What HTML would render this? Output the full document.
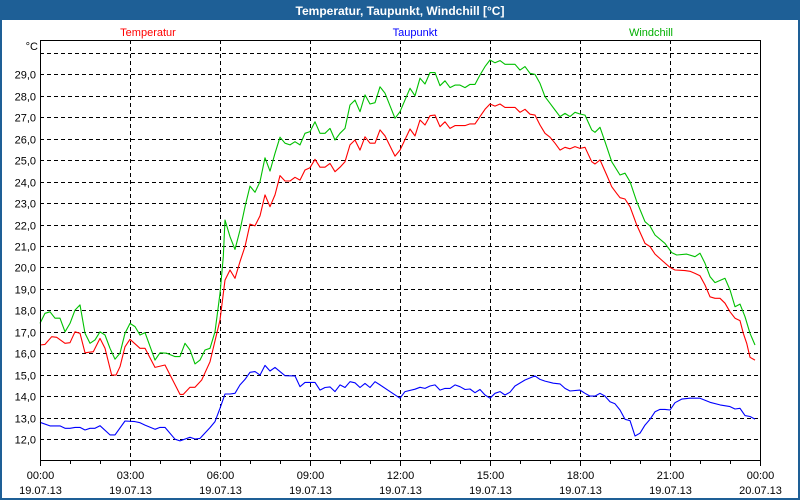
<!DOCTYPE html>
<html><head><meta charset="utf-8"><style>
html,body{margin:0;padding:0;background:#fff;}
svg{display:block;font-family:"Liberation Sans",sans-serif;}
</style></head><body>
<svg id="chart" width="800" height="500" viewBox="0 0 800 500">
<rect x="0" y="0" width="800" height="500" fill="#1e5f96"/>
<rect x="2" y="20" width="796" height="478" fill="#fff"/>
<text x="400" y="15" text-anchor="middle" font-size="12" font-weight="bold" fill="#fff">Temperatur, Taupunkt, Windchill [°C]</text>
<text x="148" y="36" text-anchor="middle" font-size="11" fill="#ff0000">Temperatur</text>
<text x="415" y="36" text-anchor="middle" font-size="11" fill="#0000ff">Taupunkt</text>
<text x="651" y="36" text-anchor="middle" font-size="11" fill="#00b000">Windchill</text>
<text x="38" y="50" text-anchor="end" font-size="11" fill="#000">°C</text>
<g id="grid"></g>
<g id="series"></g>
<g id="axes"></g>
</svg>
<script>
const yTicks=[12,13,14,15,16,17,18,19,20,21,22,23,24,25,26,27,28,29,30];
const xTickHours=[0,3,6,9,12,15,18,21,24];
const xTickTimes=["00:00","03:00","06:00","09:00","12:00","15:00","18:00","21:00","00:00"];
const xTickDates=["19.07.13","19.07.13","19.07.13","19.07.13","19.07.13","19.07.13","19.07.13","19.07.13","20.07.13"];

const tempHours=[0,0.167,0.389,0.556,0.833,1,1.167,1.333,1.5,1.778,2,2.167,2.389,2.533,2.667,2.833,3,3.333,3.5,3.833,4.167,4.667,4.778,5,5.167,5.389,5.667,6,6.167,6.333,6.5,6.667,6.833,7,7.167,7.333,7.5,7.667,7.833,8,8.167,8.333,8.5,8.667,8.833,9,9.167,9.333,9.5,9.667,9.833,10,10.167,10.333,10.5,10.667,10.833,11,11.167,11.333,11.5,11.833,12,12.333,12.5,12.667,12.833,13,13.167,13.333,13.5,13.667,13.833,14.167,14.333,14.5,14.667,14.833,15,15.167,15.333,15.5,15.833,16,16.167,16.333,16.5,16.667,16.833,17,17.167,17.333,17.5,17.667,17.833,18,18.167,18.389,18.5,18.667,18.889,19.056,19.222,19.333,19.5,19.667,19.889,20.167,20.333,20.5,20.722,21,21.167,21.5,21.667,21.833,22,22.167,22.333,22.5,22.667,22.833,23,23.167,23.333,23.444,23.556,23.667,23.833];
const tempValues=[16.38,16.41,16.77,16.74,16.46,16.49,17.0,16.93,16.02,16.07,16.69,16.23,14.98,14.98,15.37,16.3,16.65,16.23,16.23,15.34,15.45,14.08,14.08,14.41,14.41,14.75,15.6,17.55,19.41,19.88,19.49,20.27,20.97,22.02,21.94,22.4,23.38,22.83,23.38,24.28,24.03,24.03,24.2,24.07,24.54,24.65,25.04,24.67,24.67,24.85,24.46,24.67,24.93,25.71,25.94,25.47,26.09,25.79,25.79,26.41,26.13,25.19,25.47,26.45,26.13,26.87,26.64,27.07,27.1,26.56,26.79,26.48,26.61,26.61,26.69,26.69,27.03,27.37,27.62,27.52,27.62,27.46,27.46,27.23,27.37,27.14,27.1,26.64,26.25,26.07,25.79,25.47,25.6,25.53,25.63,25.55,25.6,24.93,24.82,25.01,24.31,23.76,23.45,23.25,23.19,22.83,21.98,21.12,20.97,20.62,20.34,20.0,19.88,19.85,19.82,19.72,19.61,19.18,18.63,18.56,18.56,18.33,17.93,17.63,17.52,16.93,16.46,15.81,15.68];

const dewHours=[0,0.333,0.667,0.833,1,1.167,1.333,1.5,1.667,1.833,2,2.333,2.5,2.833,3.167,3.333,3.5,3.833,4,4.167,4.5,4.667,5,5.167,5.333,5.667,5.833,6,6.167,6.333,6.5,6.667,6.833,7,7.167,7.333,7.5,7.667,7.833,8.167,8.5,8.667,8.833,9.167,9.333,9.5,9.667,9.833,10,10.167,10.333,10.5,10.667,10.833,11,11.167,11.333,11.667,12,12.167,12.5,12.667,12.833,13,13.167,13.333,13.5,13.667,13.833,14,14.167,14.333,14.5,14.667,14.833,15,15.167,15.333,15.5,15.667,15.833,16.167,16.5,16.667,16.833,17.111,17.333,17.5,17.667,18,18.167,18.333,18.5,18.667,18.833,19,19.167,19.333,19.5,19.667,19.833,20,20.167,20.333,20.5,20.667,20.833,21,21.167,21.389,21.667,22,22.333,22.667,23,23.167,23.333,23.5,23.667,23.833];
const dewValues=[12.78,12.61,12.61,12.5,12.5,12.54,12.54,12.42,12.5,12.5,12.62,12.19,12.19,12.84,12.81,12.76,12.65,12.45,12.54,12.54,11.99,11.91,12.08,12.0,12.03,12.53,12.81,13.43,14.1,14.1,14.13,14.52,14.78,15.11,15.14,14.98,15.43,15.17,15.34,14.95,14.94,14.44,14.64,14.64,14.28,14.4,14.43,14.21,14.52,14.4,14.67,14.62,14.4,14.59,14.4,14.67,14.52,14.21,13.9,14.21,14.32,14.41,14.36,14.47,14.52,14.28,14.36,14.36,14.52,14.44,14.31,14.33,14.16,14.31,14.05,13.9,14.13,14.21,14.05,14.18,14.47,14.75,14.94,14.78,14.7,14.6,14.57,14.36,14.24,14.28,14.13,14.0,14.0,14.13,14.0,13.74,13.64,13.35,12.92,12.86,12.14,12.27,12.65,12.92,13.27,13.38,13.38,13.35,13.69,13.86,13.9,13.9,13.71,13.59,13.51,13.4,13.43,13.09,13.05,12.93];

const windHours=[0,0.167,0.333,0.5,0.667,0.833,1,1.167,1.333,1.5,1.667,1.833,2,2.167,2.333,2.5,2.667,2.833,3,3.167,3.333,3.5,3.833,4,4.222,4.5,4.667,4.833,5,5.167,5.333,5.5,5.667,5.833,6,6.111,6.167,6.333,6.5,6.667,6.833,7,7.167,7.333,7.5,7.667,7.833,8,8.167,8.333,8.5,8.667,8.833,9,9.167,9.333,9.5,9.667,9.833,10,10.167,10.333,10.5,10.667,10.833,11,11.167,11.333,11.5,11.833,12,12.333,12.5,12.667,12.833,13,13.167,13.333,13.5,13.667,13.833,14,14.167,14.333,14.5,14.667,14.833,15,15.167,15.333,15.5,15.833,16,16.167,16.333,16.5,16.667,16.833,17,17.167,17.333,17.5,17.667,17.833,18,18.167,18.389,18.5,18.667,18.833,19.056,19.333,19.5,19.667,19.889,20.167,20.333,20.5,20.833,21.056,21.222,21.556,21.833,22,22.167,22.333,22.5,22.833,23,23.167,23.333,23.5,23.667,23.833];
const windValues=[17.39,17.86,17.93,17.63,17.63,17.0,17.39,18.01,18.25,16.93,16.46,16.62,17.0,16.85,16.23,15.72,16.0,16.93,17.39,17.24,16.85,16.96,15.68,16.02,16.0,15.84,15.84,16.46,16.15,15.5,15.68,16.15,16.23,17.0,18.79,20.5,22.21,21.43,20.84,21.74,22.83,23.79,23.5,24.0,25.11,24.49,25.32,26.07,25.79,25.71,25.86,25.71,26.25,26.33,26.79,26.25,26.25,26.48,25.94,26.25,26.48,27.57,27.8,27.26,28.04,27.62,27.68,28.42,28.12,26.95,27.26,28.35,28.0,28.82,28.55,29.08,29.08,28.47,28.7,28.38,28.5,28.5,28.38,28.53,28.53,28.97,29.36,29.67,29.54,29.64,29.47,29.47,29.2,29.36,29.05,29.0,28.58,27.96,27.65,27.34,27.03,27.18,27.03,27.23,27.15,27.1,26.41,26.3,26.53,25.86,24.93,24.31,24.39,24.0,23.07,22.13,21.93,21.51,21.12,20.69,20.58,20.62,20.5,20.66,20.19,19.57,19.29,19.49,18.95,18.17,18.29,17.7,16.93,16.38];

const X0=40,X1=760,YTOP=40,YBOT=460;
function xScale(h){return X0+h*(X1-X0)/24;}
function yScale(v){return 439-(v-12)*21.45;}
const NS="http://www.w3.org/2000/svg";
function mk(tag,attrs,parent){const e=document.createElementNS(NS,tag);for(const k in attrs)e.setAttribute(k,attrs[k]);parent.appendChild(e);return e;}
const grid=document.getElementById('grid'),axes=document.getElementById('axes'),series=document.getElementById('series');

yTicks.forEach(v=>{
  const y=Math.round(yScale(v))+0.5;
  const l=mk('line',{x1:X0,x2:X1,y1:y,y2:y,stroke:'#000','stroke-dasharray':'4,3','stroke-width':1},grid);
  
  
  if(v<30){
    const t=mk('text',{x:36,y:y+4,'text-anchor':'end','font-size':11,fill:'#000'},axes);
    t.textContent=v.toFixed(1).replace('.',',');
    
    
  }
});
xTickHours.forEach((h,i)=>{
  const x=Math.round(xScale(h))+0.5;
  if(h>0&&h<24){
    const l=mk('line',{x1:x,x2:x,y1:YTOP,y2:YBOT,stroke:'#000','stroke-dasharray':'4,3'},grid);
    
    
  }
  const t1=mk('text',{x:x,y:479,'text-anchor':'middle','font-size':11,fill:'#000'},axes);
  t1.textContent=xTickTimes[i];
  
  
  const t2=mk('text',{x:x,y:494,'text-anchor':'middle','font-size':11,fill:'#000'},axes);
  t2.textContent=xTickDates[i];
  
  
});
for(let h=0;h<=24;h++){
  const x=Math.round(xScale(h))+0.5;
  const l=mk('line',{x1:x,x2:x,y1:YBOT,y2:YBOT+(h%3===0?6:4),stroke:'#000'},axes);
  
  
}
const frame=mk('path',{d:`M${X0+0.5},${YTOP+0.5}H${X1+0.5}V${YBOT+0.5}H${X0+0.5}Z`,fill:'none',stroke:'#000'},axes);



function drawLine(hours,vals,color,name){
  const pts=hours.map((h,i)=>xScale(h).toFixed(1)+','+yScale(vals[i]).toFixed(1)).join(' ');
  const p=mk('polyline',{points:pts,fill:'none',stroke:color,'stroke-width':1.1,'stroke-linejoin':'round'},series);
  
  
}
drawLine(dewHours,dewValues,'#0000ff','taupunkt-line');
drawLine(windHours,windValues,'#00c000','windchill-line');
drawLine(tempHours,tempValues,'#ff0000','temperatur-line');
</script>
</body></html>
